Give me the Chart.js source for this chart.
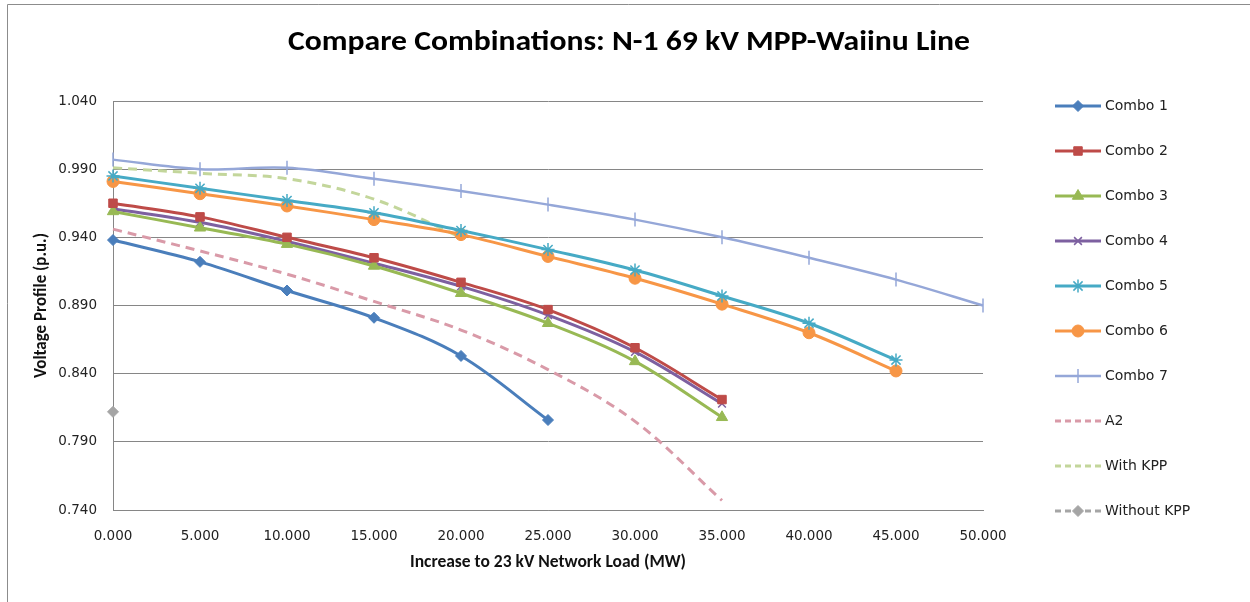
<!DOCTYPE html>
<html>
<head>
<meta charset="utf-8">
<script src="https://cdn.jsdelivr.net/npm/chart.js@4/dist/chart.umd.min.js"></script>
<style>
  html, body { margin: 0; padding: 0; background: #fff; }
  #wrap { position: relative; width: 1250px; height: 602px; }
  canvas { display: block; }
</style>
</head>
<body>
<div id="wrap"><canvas id="c" width="1250" height="602"></canvas></div>
<script>
// ---- data ----
const loads = [0, 5, 10, 15, 20, 25, 30, 35, 40, 45, 50];
const combo1 = [0.938, 0.922, 0.901, 0.881, 0.853, 0.806];
const combo2 = [0.965, 0.955, 0.940, 0.925, 0.907, 0.887, 0.859, 0.821];
const combo3 = [0.959, 0.947, 0.935, 0.919, 0.899, 0.877, 0.849, 0.808];
const combo4 = [0.961, 0.951, 0.937, 0.921, 0.904, 0.883, 0.856, 0.818];
const combo5 = [0.985, 0.976, 0.967, 0.958, 0.945, 0.931, 0.916, 0.897, 0.877, 0.850];
const combo6 = [0.981, 0.972, 0.963, 0.953, 0.942, 0.926, 0.910, 0.891, 0.870, 0.842];
const combo7 = [0.997, 0.990, 0.991, 0.983, 0.974, 0.964, 0.953, 0.940, 0.925, 0.909, 0.890];
const a2 = [0.946, 0.930, 0.913, 0.893, 0.872, 0.843, 0.805, 0.747];
const withKPP = [0.991, 0.987, 0.983, 0.968, 0.940];
const withoutKPP = [0.812];
const seriesNames = ['Combo 1', 'Combo 2', 'Combo 3', 'Combo 4', 'Combo 5', 'Combo 6', 'Combo 7', 'A2', 'With KPP', 'Without KPP'];
const yTicks = [0.740, 0.790, 0.840, 0.890, 0.940, 0.990, 1.040];
const xTicks = [0, 5, 10, 15, 20, 25, 30, 35, 40, 45, 50];
const titleText = 'Compare Combinations: N-1 69 kV MPP-Waiinu Line';
const xTitle = 'Increase to 23 kV Network Load (MW)';
const yTitle = 'Voltage Profile (p.u.)';

const pts = arr => arr.map((v, i) => ({ x: loads[i], y: v }));

const FONT = "Carlito, Calibri, Lato, 'Open Sans', sans-serif";
const TICKFONT = "'DejaVu Sans', Verdana, sans-serif";

const styles = [
  { c: '#4A7EBB', ps: 'rectRot', r: 5.5, w: 3 },
  { c: '#BE4B48', ps: 'rect', r: 6, w: 3 },
  { c: '#98B954', ps: 'triangle', r: 6.5, w: 3 },
  { c: '#7D60A0', ps: 'crossRot', r: 5.5, w: 3 },
  { c: '#46AAC5', ps: 'star', r: 6.5, w: 3 },
  { c: '#F79646', ps: 'circle', r: 6, w: 3 },
  { c: '#95A7D8', ps: 'line', r: 7, w: 2.5, rot: 90 },
  { c: '#D99AA8', ps: false, r: 0, w: 3, dash: [9, 6] },
  { c: '#C3D69B', ps: false, r: 0, w: 3, dash: [9, 6] },
  { c: '#A5A5A5', ps: 'rectRot', r: 5.5, w: 3, dash: [9, 6], noLine: true }
];
const values = [combo1, combo2, combo3, combo4, combo5, combo6, combo7, a2, withKPP, withoutKPP];

const datasets = values.map((arr, i) => {
  const s = styles[i];
  return {
    label: seriesNames[i],
    data: pts(arr),
    borderColor: s.c,
    backgroundColor: s.c,
    borderWidth: s.w,
    borderDash: s.dash || [],
    pointStyle: s.ps,
    pointRadius: s.r,
    pointHoverRadius: s.r,
    pointRotation: s.rot || 0,
    pointBorderColor: s.c,
    pointBackgroundColor: s.c,
    pointBorderWidth: (s.ps === 'crossRot' || s.ps === 'star' || s.ps === 'line') ? 1.5 : 1,
    showLine: !s.noLine,
    tension: 0.35,
    clip: false
  };
});

const titlePlugin = {
  id: 'mainTitle',
  afterDraw(chart) {
    const ctx = chart.ctx;
    ctx.save();
    // chart frame (top and left edge visible in reference)
    ctx.strokeStyle = '#8c8c8c';
    ctx.lineWidth = 1;
    ctx.beginPath();
    ctx.moveTo(7.5, 602);
    ctx.lineTo(7.5, 4.5);
    ctx.lineTo(1250, 4.5);
    ctx.stroke();
    // title (Calibri-like proportions: narrow bold text)
    ctx.fillStyle = '#000';
    ctx.font = "bold 28px " + FONT;
    ctx.textAlign = 'center';
    ctx.textBaseline = 'alphabetic';
    const w = ctx.measureText(titleText).width;
    const sx = 682 / w;
    ctx.save();
    ctx.translate(629, 50);
    ctx.scale(sx, 1);
    ctx.fillText(titleText, 0, 0);
    ctx.restore();
    // legend
    const lx0 = 1055, lx1 = 1101, ly0 = 106, step = 45;
    chart.data.datasets.forEach((ds, i) => {
      const y = ly0 + i * step;
      ctx.save();
      ctx.strokeStyle = ds.borderColor;
      ctx.lineWidth = ds.borderWidth;
      ctx.setLineDash(ds.borderDash && ds.borderDash.length ? [6, 4] : []);
      ctx.beginPath();
      ctx.moveTo(lx0, y);
      ctx.lineTo(lx1, y);
      ctx.stroke();
      ctx.restore();
      if (ds.pointStyle) {
        ctx.save();
        ctx.fillStyle = ds.pointBackgroundColor;
        ctx.strokeStyle = ds.pointBorderColor;
        ctx.lineWidth = ds.pointBorderWidth;
        Chart.helpers.drawPoint(ctx, {
          pointStyle: ds.pointStyle,
          rotation: ds.pointRotation,
          radius: ds.pointRadius,
          borderWidth: ds.pointBorderWidth
        }, (lx0 + lx1) / 2, y);
        ctx.restore();
      }
      ctx.fillStyle = '#222';
      ctx.font = "14px " + TICKFONT;
      ctx.textAlign = 'left';
      ctx.textBaseline = 'middle';
      ctx.fillText(ds.label, 1105, y);
    });
    ctx.restore();
  }
};

new Chart(document.getElementById('c'), {
  type: 'line',
  data: { datasets },
  plugins: [titlePlugin],
  options: {
    responsive: false,
    animation: false,
    devicePixelRatio: 1,
    layout: { padding: { left: 32, top: 101, right: 267, bottom: 29 } },
    plugins: {
      legend: { display: false },
      tooltip: { enabled: false },
      title: { display: false }
    },
    scales: {
      x: {
        type: 'linear',
        min: 0,
        max: 50,
        afterBuildTicks: s => { s.ticks = xTicks.map(v => ({ value: v })); },
        afterFit: s => { s.height = 602 - 29 - 510; },
        grid: { display: false, drawTicks: false },
        border: { display: true, color: '#868686', width: 1 },
        ticks: {
          padding: 18,
          color: '#222',
          font: { family: TICKFONT, size: 13.5 },
          maxRotation: 0,
          autoSkip: false,
          callback: v => Number(v).toFixed(3)
        },
        title: {
          display: true,
          text: xTitle,
          color: '#111',
          font: { family: FONT, size: 17.5, weight: 'bold' },
          padding: { top: 0, bottom: 0 }
        }
      },
      y: {
        min: 0.74,
        max: 1.04,
        afterBuildTicks: s => { s.ticks = yTicks.map(v => ({ value: v })); },
        afterFit: s => { s.width = 113 - 32; },
        grid: { color: '#868686', lineWidth: 1, drawTicks: false },
        border: { display: true, color: '#868686', width: 1 },
        ticks: {
          padding: 16,
          color: '#222',
          font: { family: TICKFONT, size: 13.5 },
          callback: v => Number(v).toFixed(3)
        },
        title: {
          display: true,
          text: yTitle,
          color: '#111',
          font: { family: FONT, size: 17, weight: 'bold' },
          padding: { top: 0, bottom: 0 }
        }
      }
    }
  }
});
</script>
</body>
</html>
